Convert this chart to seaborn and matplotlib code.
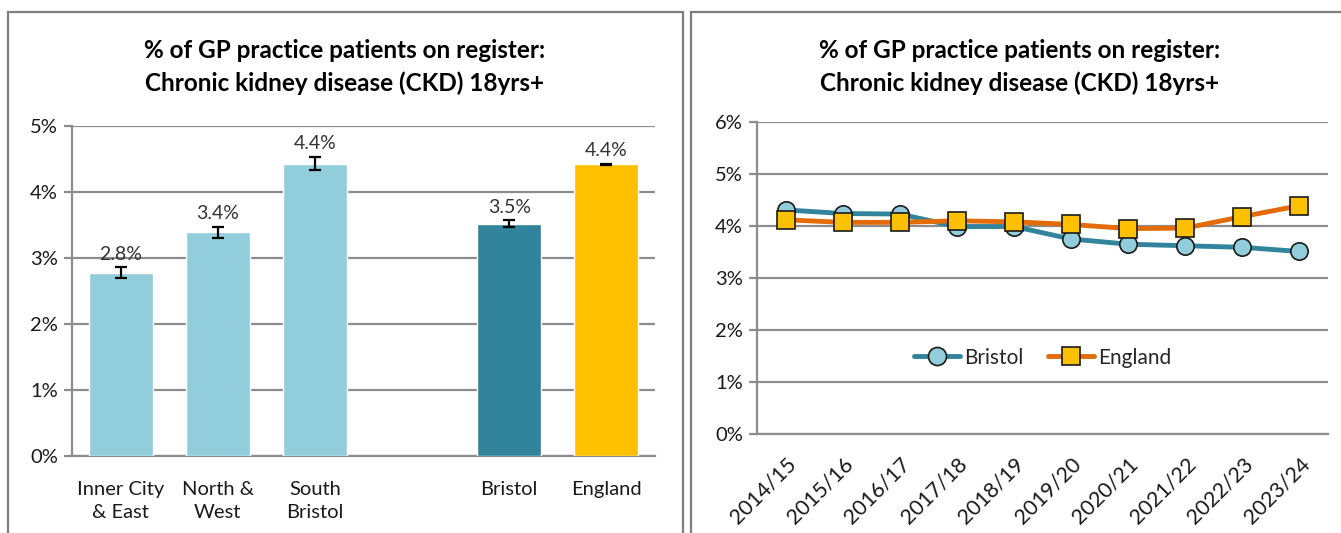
import numpy as np
import pandas as pd
import matplotlib
matplotlib.use("Agg")
import matplotlib.pyplot as plt
import seaborn as sns
from matplotlib.patches import Rectangle
from matplotlib.lines import Line2D

# ---- data ----
bar_categories = ["Inner City\n& East", "North &\nWest", "South\nBristol", "", "Bristol", "England"]
bar_values = [2.78, 3.39, 4.43, np.nan, 3.52, 4.42]
bar_errors = [0.08, 0.08, 0.10, np.nan, 0.05, 0.01]
bar_labels = ["2.8%", "3.4%", "4.4%", "", "3.5%", "4.4%"]
bar_colors = ["#92CDDC", "#92CDDC", "#92CDDC", "#FFFFFF", "#31849B", "#FFC000"]

years = ["2014/15", "2015/16", "2016/17", "2017/18", "2018/19",
         "2019/20", "2020/21", "2021/22", "2022/23", "2023/24"]
bristol_trend = [4.31, 4.24, 4.23, 3.99, 3.99, 3.75, 3.65, 3.62, 3.59, 3.51]
england_trend = [4.12, 4.07, 4.07, 4.10, 4.08, 4.03, 3.95, 3.96, 4.18, 4.39]

title = "% of GP practice patients on register:\nChronic kidney disease (CKD) 18yrs+"

sns.set_theme(style="white")
plt.rcParams["font.family"] = ["Lato", "DejaVu Sans"]

W, H = 1341, 533
fig = plt.figure(figsize=(W / 100, H / 100), dpi=100)
fig.patch.set_facecolor("white")

grid_c = "#8C8C8C"
text_c = "#1A1A1A"

# panel borders
for x0, x1 in [(8, 683), (691, 1345)]:
    fig.patches.append(Rectangle((x0 / W, -0.05), (x1 - x0) / W, (H - 12) / H + 0.05,
                                 transform=fig.transFigure, fill=False,
                                 edgecolor="#7F7F7F", lw=1.6, zorder=0))

# ---- left: bar chart ----
ax1 = fig.add_axes([72 / W, 1 - 456 / H, (655 - 72) / W, (456 - 126) / H])
df_bar = pd.DataFrame({"area": bar_categories, "value": bar_values})
sns.barplot(data=df_bar, x="area", y="value", hue="area", order=bar_categories,
            hue_order=bar_categories, palette=dict(zip(bar_categories, bar_colors)),
            width=0.66, legend=False, ax=ax1, saturation=1, zorder=3)
pos = np.arange(len(bar_categories))
ax1.errorbar(pos, bar_values, yerr=bar_errors, fmt="none", ecolor="black",
             elinewidth=1.6, capsize=4, capthick=1.6, zorder=4)
for p, v, e, lab in zip(pos, bar_values, bar_errors, bar_labels):
    if lab:
        ax1.text(p, v + e + 0.07, lab, ha="center", va="bottom", fontsize=14, color="#333333")
ax1.set_ylim(0, 5)
ax1.set_xlim(-0.5, len(bar_categories) - 0.5)
ax1.set_yticks(range(0, 6))
ax1.set_yticklabels([f"{i}%" for i in range(0, 6)])
ax1.set_xlabel("")
ax1.set_ylabel("")

# ---- right: line chart ----
ax2 = fig.add_axes([757 / W, 1 - 434 / H, (1328 - 757) / W, (434 - 122) / H])
df_line = pd.DataFrame({
    "year": years * 2,
    "value": bristol_trend + england_trend,
    "area": ["Bristol"] * len(years) + ["England"] * len(years),
})
df_line["x"] = np.tile(np.arange(len(years)), 2)
sns.lineplot(data=df_line[df_line.area == "Bristol"], x="x", y="value", ax=ax2,
             color="#31849B", lw=3.5, marker="o", markersize=12.5,
             markerfacecolor="#92CDDC", markeredgecolor="#1A1A1A", markeredgewidth=1.2,
             zorder=3)
sns.lineplot(data=df_line[df_line.area == "England"], x="x", y="value", ax=ax2,
             color="#E36C09", lw=3.5, marker="s", markersize=12.5,
             markerfacecolor="#FFC000", markeredgecolor="#1A1A1A", markeredgewidth=1.2,
             zorder=4)
ax2.set_ylim(0, 6)
ax2.set_xlim(-0.5, len(years) - 0.5)
ax2.set_yticks(range(0, 7))
ax2.set_yticklabels([f"{i}%" for i in range(0, 7)])
ax2.set_xticks(np.arange(len(years)))
ax2.set_xticklabels(years, rotation=45, ha="right", rotation_mode="anchor")
ax2.set_xlabel("")
ax2.set_ylabel("")
handles = [
    Line2D([], [], color="#31849B", lw=3.5, marker="o", markersize=13,
           markerfacecolor="#92CDDC", markeredgecolor="#1A1A1A", markeredgewidth=1.2),
    Line2D([], [], color="#E36C09", lw=3.5, marker="s", markersize=13,
           markerfacecolor="#FFC000", markeredgecolor="#1A1A1A", markeredgewidth=1.2),
]
ax2.legend(handles, ["Bristol", "England"], loc="center", bbox_to_anchor=(0.5, 0.245),
           ncol=2, frameon=False, fontsize=15, handlelength=2.2, handletextpad=0.2,
           columnspacing=1.2, facecolor="white")

# common styling
for ax, n in [(ax1, len(bar_categories)), (ax2, len(years))]:
    ax.set_facecolor("white")
    ax.grid(axis="y", color=grid_c, lw=1.6, zorder=0)
    ax.set_axisbelow(True)
    for s in ["top", "right"]:
        ax.spines[s].set_visible(False)
    for s in ["left", "bottom"]:
        ax.spines[s].set_color(grid_c)
        ax.spines[s].set_linewidth(1.6)
    ax.set_xticks(np.arange(n + 1) - 0.5, minor=True)
    ax.tick_params(axis="x", which="major", length=0, labelsize=14.5, colors=text_c, pad=10)
    ax.tick_params(axis="x", which="minor", length=7, width=1.6, color=grid_c, direction="out")
    ax.tick_params(axis="y", which="major", length=6, width=1.6, color=grid_c,
                   direction="out", labelsize=14.5, labelcolor=text_c, pad=4)
    ax.tick_params(bottom=True, left=True)
ax1.tick_params(axis="x", which="major", pad=18)
for lab in ax1.get_xticklabels():
    lab.set_linespacing(1.45)
ax2.tick_params(axis="x", which="major", pad=14, labelsize=15.5)

fig.text(345 / W, 1 - 67 / H, title, ha="center", va="center", fontsize=17.5,
         fontweight="bold", color="black", linespacing=1.45)
fig.text(1020 / W, 1 - 67 / H, title, ha="center", va="center", fontsize=17.5,
         fontweight="bold", color="black", linespacing=1.45)

fig.savefig("out.png", dpi=100)
